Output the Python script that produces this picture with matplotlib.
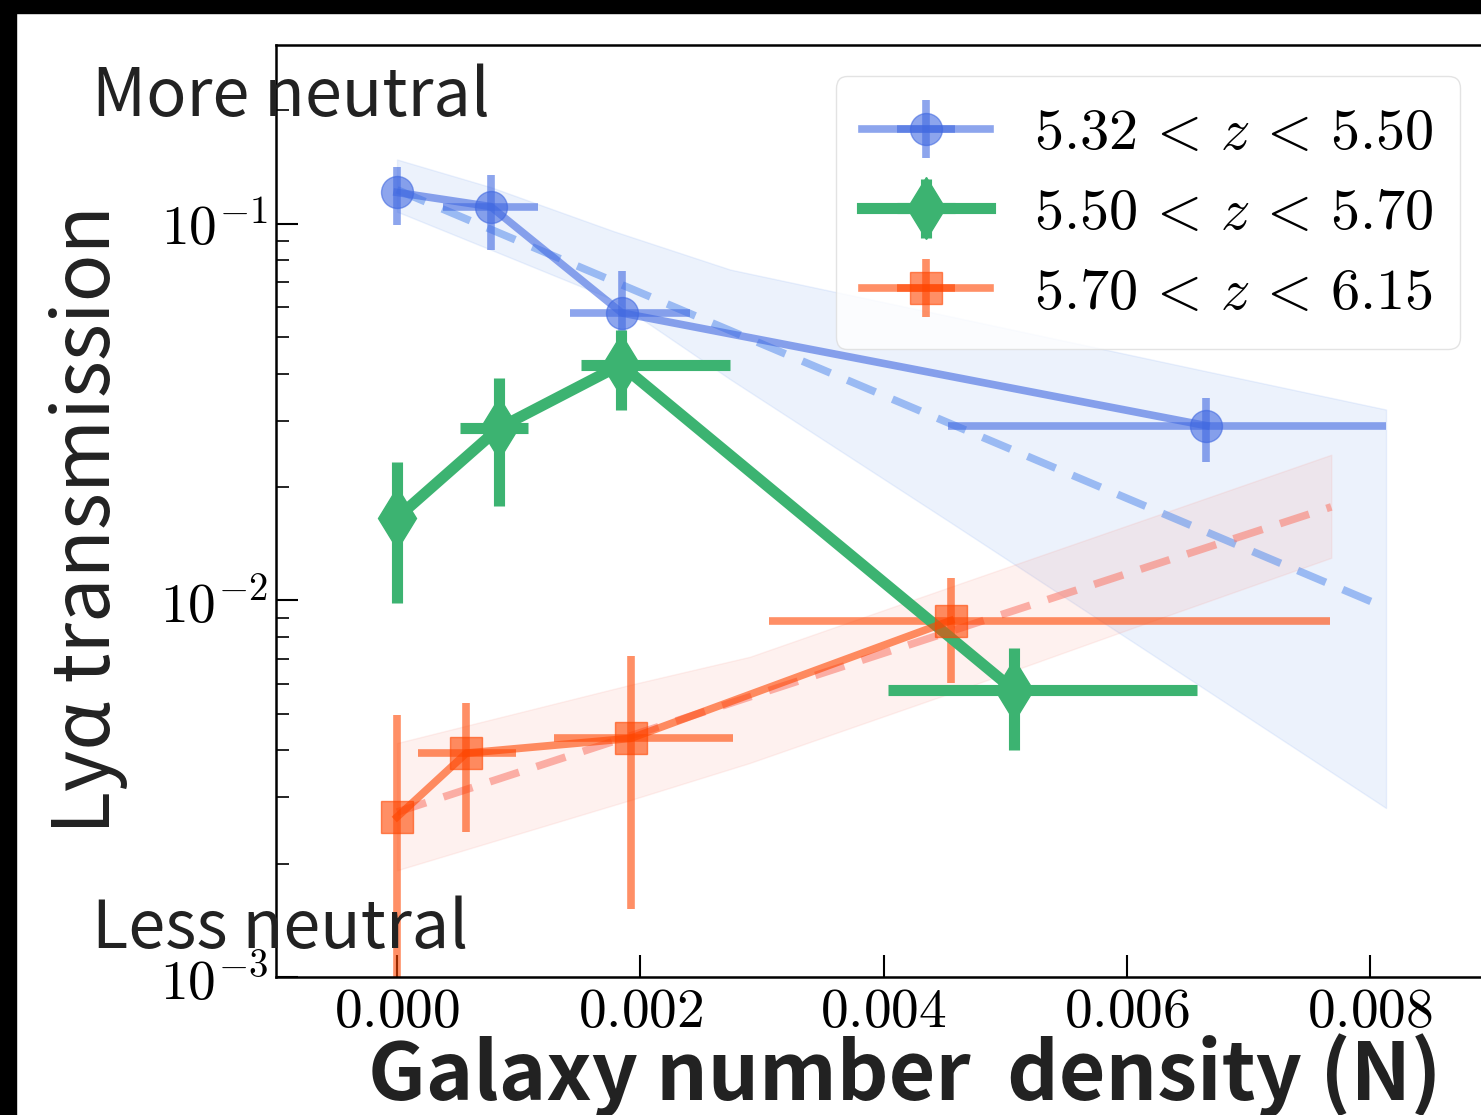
import matplotlib
matplotlib.use("Agg")
import matplotlib.pyplot as plt
from matplotlib.patches import Rectangle
from matplotlib.ticker import FixedLocator, FuncFormatter, LogLocator, NullFormatter
import numpy as np

# measured points, three redshift bins
blue_x = [0.0, 0.00077, 0.00185, 0.00665]
blue_y = [0.121, 0.111, 0.0579, 0.0291]
blue_xerr = [[0.0, 0.00039, 0.00043, 0.00212], [0.0, 0.00039, 0.00056, 0.00148]]
blue_yerr = [[0.0216, 0.0257, 0.0129, 0.0058], [0.020, 0.024, 0.0168, 0.0054]]

green_x = [0.0, 0.00084, 0.00184, 0.00507]
green_y = [0.01656, 0.0287, 0.0422, 0.00578]
green_xerr = [[0.0, 0.00032, 0.00033, 0.00103], [0.0, 0.00024, 0.0009, 0.00151]]
green_yerr = [[0.0067, 0.0109, 0.0101, 0.00177], [0.0067, 0.0103, 0.0101, 0.0017]]

orange_x = [0.0, 0.00057, 0.00192, 0.00455]
orange_y = [0.00266, 0.00393, 0.0043, 0.00883]
orange_xerr = [[0.0, 0.0004, 0.00063, 0.00149], [0.0, 0.00041, 0.00084, 0.00312]]
orange_yerr = [[0.00262, 0.0015, 0.00278, 0.00279], [0.00231, 0.00142, 0.0028, 0.00265]]

# fitted relations (straight in log space) and their uncertainty bands
blue_fit_x = [0.0, 0.00813]
blue_fit_y = [0.123, 0.00955]
blue_band_x = [0.0, 0.00077, 0.00178, 0.00274, 0.00455, 0.0066, 0.00813]
blue_band_hi = [0.148, 0.125, 0.0955, 0.0755, 0.0567, 0.0409, 0.0321]
blue_band_lo = [0.1076, 0.0853, 0.0628, 0.0386, 0.0161, 0.00593, 0.00281]

orange_fit_x = [0.0, 0.00768]
orange_fit_y = [0.00274, 0.0177]
orange_band_x = [0.0, 0.00192, 0.0029, 0.00455, 0.00619, 0.00768]
orange_band_hi = [0.00418, 0.00597, 0.00708, 0.01086, 0.01657, 0.02435]
orange_band_lo = [0.00192, 0.00295, 0.0037, 0.00567, 0.00877, 0.01297]

labels = [r"$5.32\,<\,z\,<\,5.50$", r"$5.50\,<\,z\,<\,5.70$", r"$5.70\,<\,z\,<\,6.15$"]
x_ticks = [0.0, 0.002, 0.004, 0.006, 0.008]

plt.rcParams.update({
    "mathtext.fontset": "cm",
    "font.family": ["Noto Sans CJK SC", "DejaVu Sans"],
})

W, H = 1481, 1115
fig = plt.figure(figsize=(W / 100, H / 100), dpi=100)
ax = fig.add_axes([276 / W, 1 - 977 / H, (1500 - 276) / W, (977 - 45) / H])

ax.fill_between(blue_band_x, blue_band_lo, blue_band_hi, color="cornflowerblue", alpha=0.12, lw=1)
ax.fill_between(orange_band_x, orange_band_lo, orange_band_hi, color="salmon", alpha=0.11, lw=1)
ax.plot(blue_fit_x, blue_fit_y, "--", color="cornflowerblue", alpha=0.6, lw=5.5, dashes=(4, 2.4))
ax.plot(orange_fit_x, orange_fit_y, "--", color="salmon", alpha=0.6, lw=5.5, dashes=(4, 2.4))

ax.errorbar(blue_x, blue_y, xerr=blue_xerr, yerr=blue_yerr, fmt="-o", color="royalblue",
            alpha=0.6, lw=5.5, elinewidth=5.5, ms=23, capsize=0, label=labels[0])
ax.errorbar(green_x, green_y, xerr=green_xerr, yerr=green_yerr, fmt="-d", color="mediumseagreen",
            lw=8, elinewidth=8, ms=32, capsize=0, label=labels[1])
ax.errorbar(orange_x, orange_y, xerr=orange_xerr, yerr=orange_yerr, fmt="-s", color="orangered",
            alpha=0.6, lw=5.5, elinewidth=5.5, ms=23, capsize=0, label=labels[2])

ax.set_yscale("log")
ax.set_ylim(1e-3, 0.298)
ax.set_xlim(-0.000995, 0.009067)
ax.xaxis.set_major_locator(FixedLocator(x_ticks))
ax.xaxis.set_major_formatter(FuncFormatter(lambda v, p: r"$%.3f$" % v))
ax.yaxis.set_major_locator(LogLocator(base=10))
ax.yaxis.set_major_formatter(FuncFormatter(lambda v, p: r"$10^{%d}$" % round(np.log10(v))))
ax.yaxis.set_minor_locator(LogLocator(base=10, subs=np.arange(2, 10)))
ax.yaxis.set_minor_formatter(NullFormatter())
ax.tick_params(axis="both", which="major", direction="in", length=16, width=1.5, labelsize=40, pad=6)
ax.tick_params(axis="x", which="major", pad=4)
ax.tick_params(axis="y", which="minor", direction="in", length=9, width=1.2)
ax.tick_params(axis="x", which="minor", bottom=False)
for s in ax.spines.values():
    s.set_linewidth(1.8)

leg = ax.legend(loc="upper right", bbox_to_anchor=(1460 / W, 1 - 76 / H), bbox_transform=fig.transFigure,
                fontsize=42, handlelength=2.2, handletextpad=0.75, labelspacing=0.32,
                borderpad=0.45, borderaxespad=0, fancybox=True, framealpha=0.8, edgecolor="#dddddd")

fig.text(92 / W, 1 - 116 / H, "More neutral", fontsize=48, color="#222222", va="baseline")
fig.text(92 / W, 1 - 948 / H, "Less neutral", fontsize=48, color="#222222", va="baseline")
fig.text(88 / W, 0.5 * (2 - (210 + 830) / H), "Lyα transmission", fontsize=57, color="#222222",
         rotation=90, ha="center", va="center")
fig.text(905 / W, 1 - 1100 / H, "Galaxy number  density (N)", fontsize=58, fontweight="bold",
         color="#222222", ha="center", va="baseline")

# black frame along the top and left edges of the screenshot
fig.patches.append(Rectangle((0, 1 - 13 / H), 1, 13 / H, transform=fig.transFigure, color="black", zorder=10))
fig.patches.append(Rectangle((0, 0), 16 / W, 1, transform=fig.transFigure, color="black", zorder=10))

fig.savefig("out.png", dpi=100)
